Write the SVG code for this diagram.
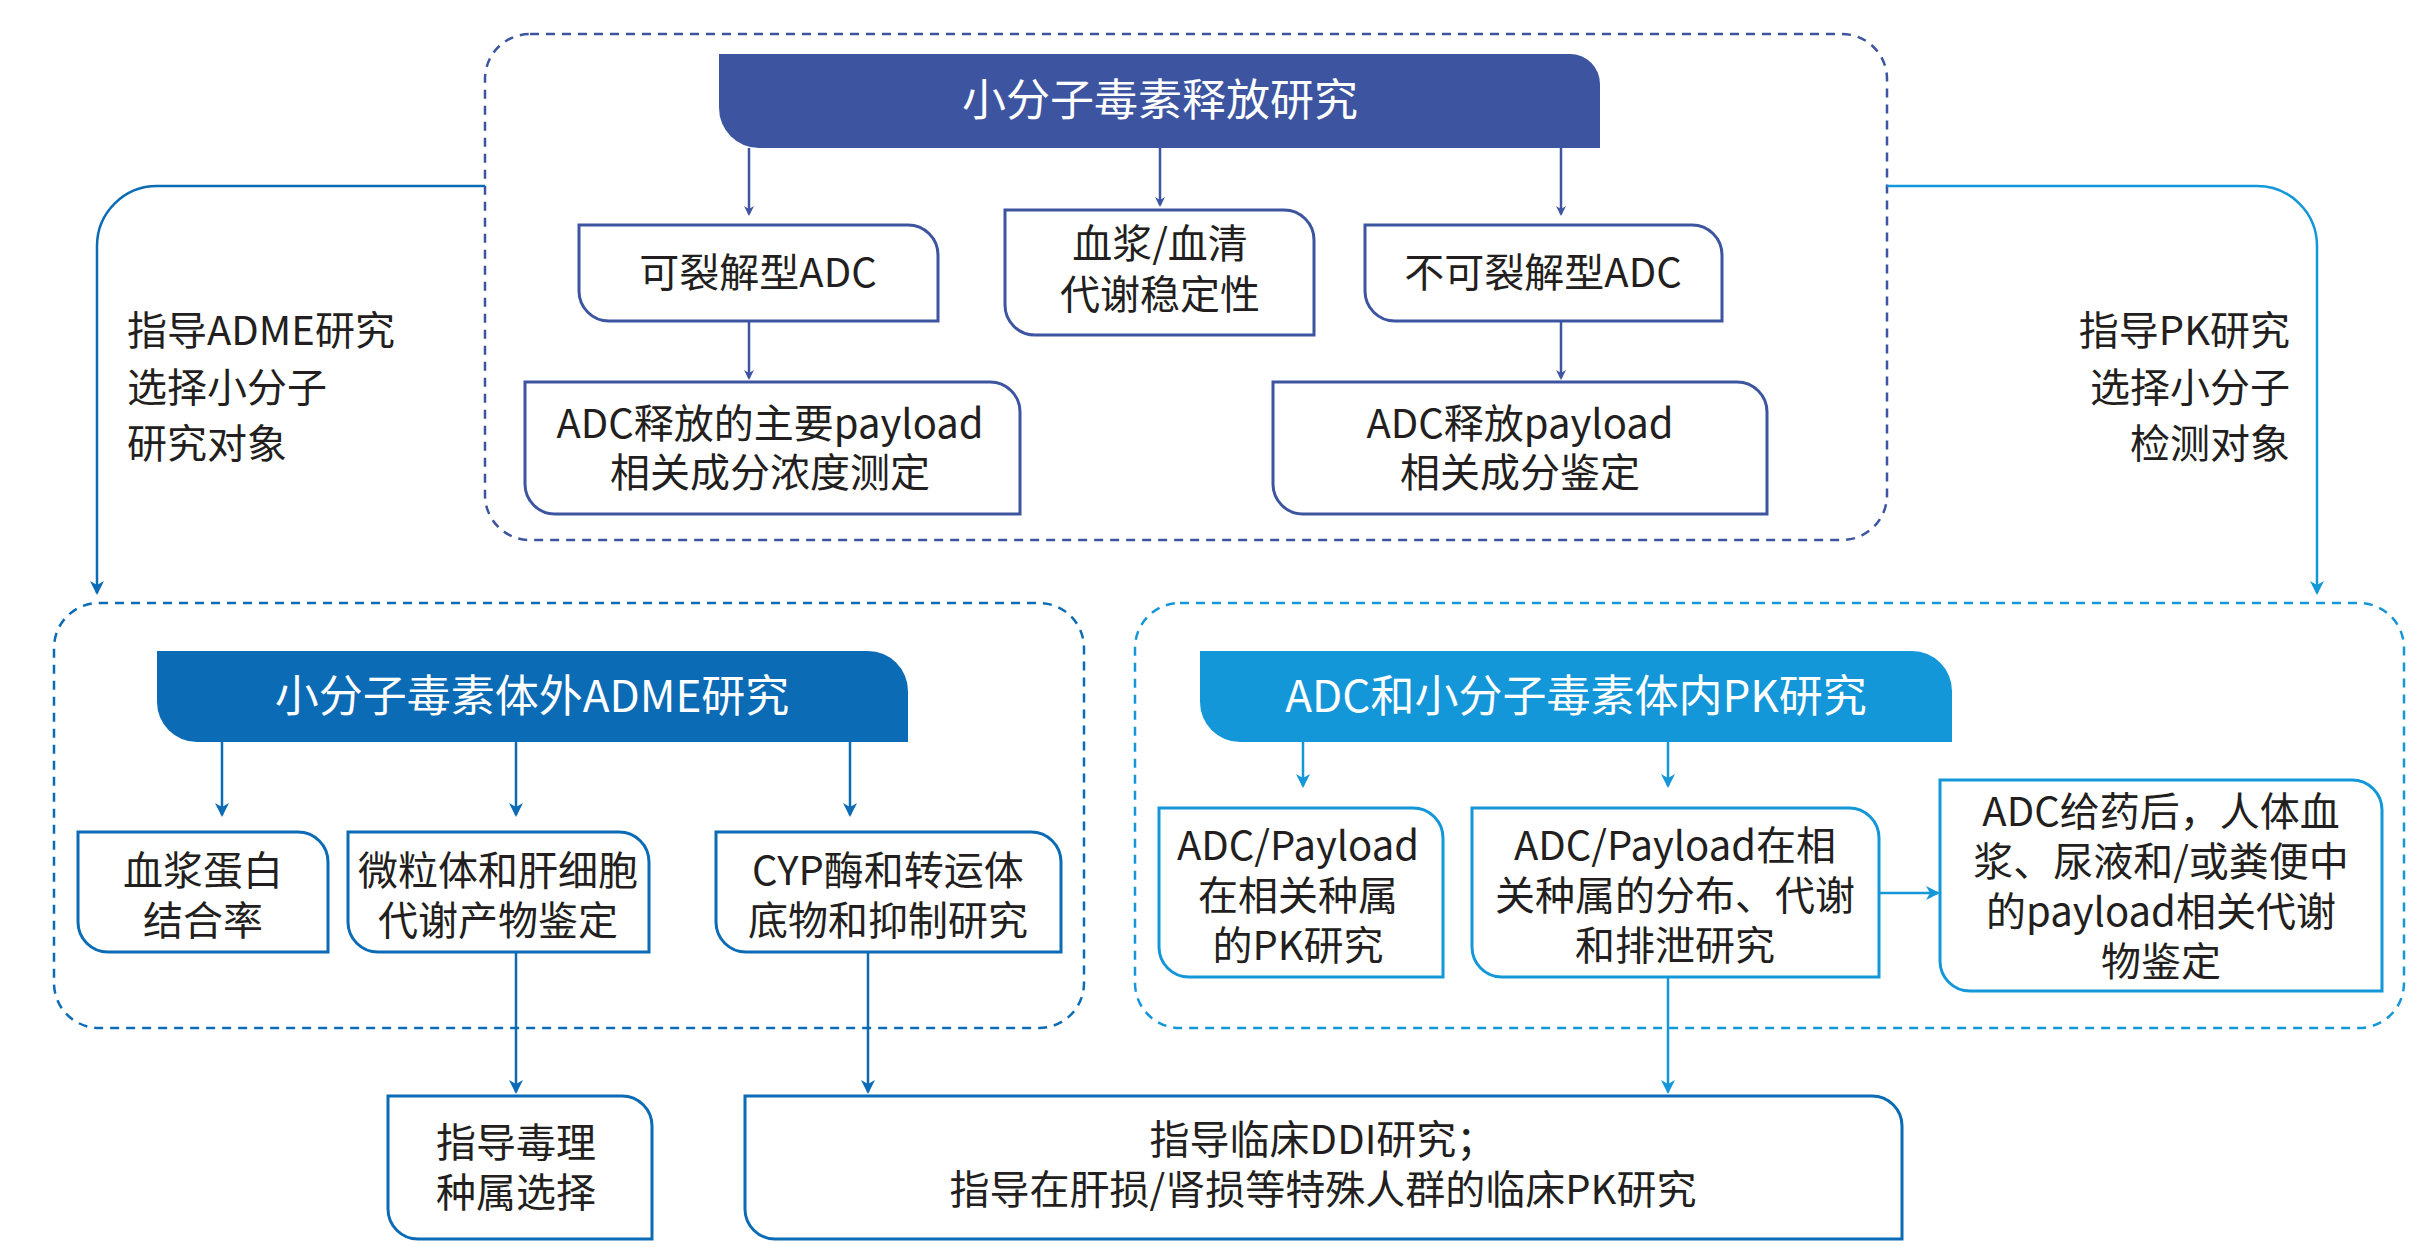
<svg xmlns="http://www.w3.org/2000/svg" width="2423" height="1255" viewBox="0 0 2423 1255">
<style>
text{font-family:"Noto Sans CJK SC","Noto Sans",sans-serif;fill:#231f20;text-anchor:middle;font-size:40px}
.h{fill:#fff;font-size:44px}
.n{fill:#fff;stroke-width:3}
.a{stroke:#3d55a0}.b{stroke:#0b6bb5}.c{stroke:#1497d8}
.dash{fill:none;stroke-width:2.5;stroke-dasharray:9 7}
.ln{fill:none;stroke-width:2.5}
</style>
<defs>
<marker id="ma" markerWidth="10" markerHeight="10" refX="8" refY="5" orient="auto" markerUnits="userSpaceOnUse"><path d="M0,0 L10,5 L0,10 L3,5Z" fill="#3d55a0"/></marker>
<marker id="mb" markerWidth="14" markerHeight="14" refX="12" refY="7" orient="auto" markerUnits="userSpaceOnUse"><path d="M0,0 L14,7 L0,14 L4,7Z" fill="#0b6bb5"/></marker>
<marker id="mc" markerWidth="14" markerHeight="14" refX="12" refY="7" orient="auto" markerUnits="userSpaceOnUse"><path d="M0,0 L14,7 L0,14 L4,7Z" fill="#1497d8"/></marker>
</defs>
<rect width="2423" height="1255" fill="#fff"/>
<g id="frames">
<rect class="dash a" x="485" y="34" width="1402" height="506" rx="45"/>
<rect class="dash b" x="54" y="603" width="1030" height="425" rx="45"/>
<rect class="dash c" x="1135" y="603" width="1269" height="425" rx="45"/>
</g>
<g id="connectors">
<g class="ln a" marker-end="url(#ma)">
<path d="M749,148 V214"/><path d="M1160,148 V205"/><path d="M1561,148 V214"/>
<path d="M749,321 V378"/><path d="M1561,321 V378"/>
</g>
<g class="ln b" marker-end="url(#mb)">
<path d="M485,186 H157 A60,60 0 0 0 97,246 V593"/>
<path d="M222,742 V815"/><path d="M516,742 V815"/><path d="M850,742 V815"/>
<path d="M516,952 V1092"/><path d="M868,952 V1092"/>
</g>
<g class="ln c" marker-end="url(#mc)">
<path d="M1887,186 H2257 A60,60 0 0 1 2317,246 V593"/>
<path d="M1303,742 V786"/><path d="M1668,742 V786"/>
<path d="M1879,893 H1938"/><path d="M1668,977 V1092"/>
</g>
</g>
<g id="side-left"><text x="127" y="345" style="text-anchor:start">指导ADME研究</text><text x="127" y="402" style="text-anchor:start">选择小分子</text><text x="127" y="458" style="text-anchor:start">研究对象</text></g>
<g id="side-right"><text x="2290" y="345" style="text-anchor:end">指导PK研究</text><text x="2290" y="402" style="text-anchor:end">选择小分子</text><text x="2290" y="458" style="text-anchor:end">检测对象</text></g>
<g id="h1"><path d="M719,54 H1570 A30,30 0 0 1 1600,84 V148 H759 A40,40 0 0 1 719,108 Z" fill="#3d55a0"/><text class="h" x="1160" y="116">小分子毒素释放研究</text></g>
<g id="n1"><path class="n a" d="M579,225 H908 A30,30 0 0 1 938,255 V321 H609 A30,30 0 0 1 579,291 Z"/><text x="758" y="287">可裂解型ADC</text></g>
<g id="n2"><path class="n a" d="M1005,210 H1284 A30,30 0 0 1 1314,240 V335 H1035 A30,30 0 0 1 1005,305 Z"/><text x="1160" y="258">血浆/血清</text><text x="1160" y="309">代谢稳定性</text></g>
<g id="n3"><path class="n a" d="M1365,225 H1692 A30,30 0 0 1 1722,255 V321 H1395 A30,30 0 0 1 1365,291 Z"/><text x="1543" y="287">不可裂解型ADC</text></g>
<g id="n4"><path class="n a" d="M525,382 H990 A30,30 0 0 1 1020,412 V514 H555 A30,30 0 0 1 525,484 Z"/><text x="770" y="438">ADC释放的主要payload</text><text x="770" y="487">相关成分浓度测定</text></g>
<g id="n5"><path class="n a" d="M1273,382 H1737 A30,30 0 0 1 1767,412 V514 H1303 A30,30 0 0 1 1273,484 Z"/><text x="1520" y="438">ADC释放payload</text><text x="1520" y="487">相关成分鉴定</text></g>
<g id="h2"><path d="M157,651 H868 A40,40 0 0 1 908,691 V742 H197 A40,40 0 0 1 157,702 Z" fill="#0b6bb5"/><text class="h" x="532" y="712">小分子毒素体外ADME研究</text></g>
<g id="n6"><path class="n b" d="M78,832 H298 A30,30 0 0 1 328,862 V952 H108 A30,30 0 0 1 78,922 Z"/><text x="203" y="885">血浆蛋白</text><text x="203" y="935">结合率</text></g>
<g id="n7"><path class="n b" d="M348,832 H619 A30,30 0 0 1 649,862 V952 H378 A30,30 0 0 1 348,922 Z"/><text x="498" y="885">微粒体和肝细胞</text><text x="498" y="935">代谢产物鉴定</text></g>
<g id="n8"><path class="n b" d="M716,832 H1031 A30,30 0 0 1 1061,862 V952 H746 A30,30 0 0 1 716,922 Z"/><text x="888" y="885">CYP酶和转运体</text><text x="888" y="935">底物和抑制研究</text></g>
<g id="h3"><path d="M1200,651 H1912 A40,40 0 0 1 1952,691 V742 H1240 A40,40 0 0 1 1200,702 Z" fill="#1497d8"/><text class="h" x="1576" y="712">ADC和小分子毒素体内PK研究</text></g>
<g id="n9"><path class="n c" d="M1159,808 H1413 A30,30 0 0 1 1443,838 V977 H1189 A30,30 0 0 1 1159,947 Z"/><text x="1298" y="860">ADC/Payload</text><text x="1298" y="910">在相关种属</text><text x="1298" y="960">的PK研究</text></g>
<g id="n10"><path class="n c" d="M1472,808 H1849 A30,30 0 0 1 1879,838 V977 H1502 A30,30 0 0 1 1472,947 Z"/><text x="1675" y="860">ADC/Payload在相</text><text x="1675" y="910">关种属的分布、代谢</text><text x="1675" y="960">和排泄研究</text></g>
<g id="n11"><path class="n c" d="M1940,780 H2352 A30,30 0 0 1 2382,810 V991 H1970 A30,30 0 0 1 1940,961 Z"/><text x="2161" y="826">ADC给药后，人体血</text><text x="2161" y="876">浆、尿液和/或粪便中</text><text x="2161" y="926">的payload相关代谢</text><text x="2161" y="976">物鉴定</text></g>
<g id="n12"><path class="n b" d="M388,1096 H622 A30,30 0 0 1 652,1126 V1239 H418 A30,30 0 0 1 388,1209 Z"/><text x="516" y="1157">指导毒理</text><text x="516" y="1207">种属选择</text></g>
<g id="n13"><path class="n b" d="M745,1096 H1872 A30,30 0 0 1 1902,1126 V1239 H775 A30,30 0 0 1 745,1209 Z"/><text x="1323" y="1154">指导临床DDI研究；</text><text x="1323" y="1204">指导在肝损/肾损等特殊人群的临床PK研究</text></g>
</svg>
